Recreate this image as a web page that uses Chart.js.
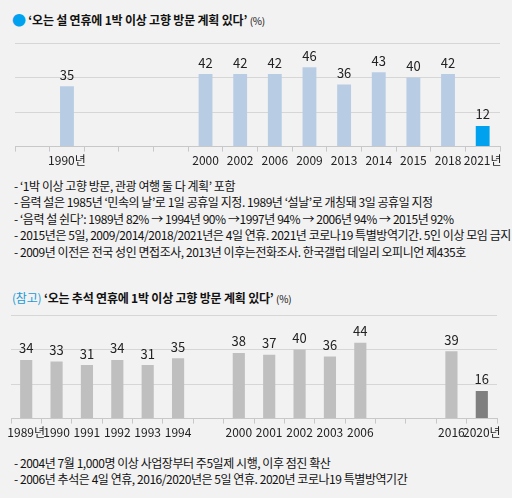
<!DOCTYPE html>
<html><head><meta charset="utf-8">
<script src="https://cdn.jsdelivr.net/npm/chart.js@4"></script>
<style>
body{margin:0;background:#fff;font-family:"Noto Sans CJK KR",sans-serif;}
#wrap{position:absolute;left:0;top:0;width:512px;height:498px;background:#f2f2f2;}
.t{position:absolute;white-space:nowrap;color:#111;}
.h{font-size:12px;font-weight:bold;letter-spacing:-0.2px}
.n{font-size:12px;left:14px;letter-spacing:-0.45px}
.p{font-weight:normal;font-size:10px}
canvas{position:absolute;left:0}
</style></head><body>
<div id="wrap">
<div class="t h" style="left:12px;top:9px"><span style="color:#00a2f0;font-size:14px">●</span> ‘오는 설 연휴에 1박 이상 고향 방문 계획 있다’ <span class="p">(%)</span></div>
<div class="t n" style="top:177px">- ‘1박 이상 고향 방문, 관광 여행 둘 다 계획’ 포함</div>
<div class="t n" style="top:193px">- 음력 설은 1985년 ‘민속의 날’로 1일 공휴일 지정. 1989년 ‘설날’로 개칭돼 3일 공휴일 지정</div>
<div class="t n" style="top:210px">- ‘음력 설 쉰다’: 1989년 82% → 1994년 90% →1997년 94% → 2006년 94% → 2015년 92%</div>
<div class="t n" style="top:226px">- 2015년은 5일, 2009/2014/2018/2021년은 4일 연휴. 2021년 코로나19 특별방역기간. 5인 이상 모임 금지</div>
<div class="t n" style="top:243px">- 2009년 이전은 전국 성인 면접조사, 2013년 이후는전화조사. 한국갤럽 데일리 오피니언 제435호</div>
<div class="t h" style="left:12px;top:289px"><span style="color:#1a9ad6;font-weight:normal">(참고)</span> ‘오는 추석 연휴에 1박 이상 고향 방문 계획 있다’ <span class="p">(%)</span></div>
<div class="t n" style="top:454px">- 2004년 7월 1,000명 이상 사업장부터 주5일제 시행, 이후 점진 확산</div>
<div class="t n" style="top:470px">- 2006년 추석은 4일 연휴, 2016/2020년은 5일 연휴. 2020년 코로나19 특별방역기간</div>
<canvas id="c1" style="top:30px" width="514" height="140"></canvas>
<canvas id="c2" style="top:302px" width="514" height="140"></canvas>
</div>
<script>
const cat1=['','1990년','','','','2000','2002','2006','2009','2013','2014','2015','2018','2021년'];
const val1=[null,35,null,null,null,42,42,42,46,36,43,40,42,12];
const col1=['#b8cce4','#b8cce4','#b8cce4','#b8cce4','#b8cce4','#b8cce4','#b8cce4','#b8cce4','#b8cce4','#b8cce4','#b8cce4','#b8cce4','#b8cce4','#00a2f0'];
const cat2=['1989년','1990','1991','1992','1993','1994','','2000','2001','2002','2003','2006','','','2016','2020년'];
const val2=[34,33,31,34,31,35,null,38,37,40,36,44,null,null,39,16];
const col2=val2.map((v,i)=>i===15?'#7f7f7f':'#bfbfbf');
const yTicks=[0,20,40,60];
const lbl={id:'lbl',afterDatasetsDraw(ch){const c=ch.ctx;const m=ch.getDatasetMeta(0);c.save();c.font='13px "Noto Sans CJK KR"';c.fillStyle='#222';c.textAlign='center';c.textBaseline='bottom';
m.data.forEach((b,i)=>{const v=ch.data.datasets[0].data[i];if(v==null)return;c.fillText(v,b.x,b.y-5);});c.restore();}};
function mk(id,cats,vals,cols,pad){
new Chart(document.getElementById(id),{type:'bar',data:{labels:cats,datasets:[{data:vals,backgroundColor:cols,barPercentage:0.4,categoryPercentage:1}]},
options:{responsive:false,animation:false,events:[],layout:{padding:pad},plugins:{legend:{display:false},tooltip:{enabled:false}},
scales:{x:{grid:{drawOnChartArea:false,color:'#c8c8c8',tickLength:5},border:{color:'#c8c8c8'},ticks:{color:'#222',font:{size:12,family:'Noto Sans CJK KR'},maxRotation:0,autoSkip:false,padding:2}},
y:{min:0,max:60,afterBuildTicks:a=>{a.ticks=yTicks.map(v=>({value:v}));},afterFit:a=>{a.width=0;},ticks:{display:false},grid:{color:'#d6d6d6',drawTicks:false},border:{display:false}}}},plugins:[lbl]});}
mk('c1',cat1,val1,col1,{left:15,right:14,top:13,bottom:0});
mk('c2',cat2,val2,col2,{left:11,right:17,top:13,bottom:0});
</script></body></html>
